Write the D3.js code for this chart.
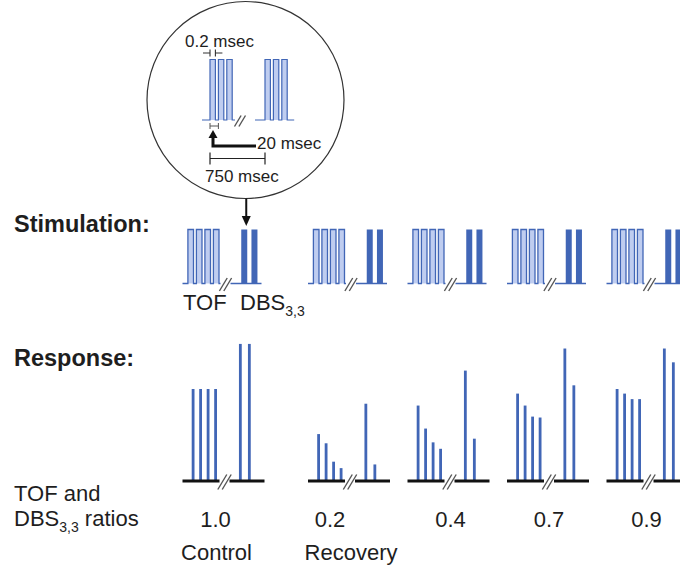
<!DOCTYPE html>
<html>
<head>
<meta charset="utf-8">
<script src="https://cdn.jsdelivr.net/npm/d3@7"></script>
<style>
  body { margin: 0; background: #fff; }
  svg { display: block; font-family: "Liberation Sans", Arial, sans-serif; }
</style>
</head>
<body>
<svg id="chart" width="680" height="566"></svg>
<script>
//groups of the figure, one per recovery level
const ratioLabels = ["1.0", "0.2", "0.4", "0.7", "0.9"]
const groupNotes = ["Control", "Recovery", "", "", ""]

//response heights, 1.0 = first twitch of control
const tofResponse = [
  [1.0, 1.0, 1.0, 1.0],
  [0.51, 0.41, 0.21, 0.14],
  [0.82, 0.57, 0.42, 0.35],
  [0.95, 0.82, 0.70, 0.69],
  [1.0, 0.95, 0.89, 0.89]
]
const dbsResponse = [
  [1.49, 1.49],
  [0.84, 0.18],
  [1.20, 0.46],
  [1.44, 1.04],
  [1.44, 1.29]
]

//pulse slots inside one group (TOF 4 single pulses, then 2 DBS bursts)
const tofSlots = [0, 1, 2, 3]
const dbsSlots = [6.3, 7.5]

//the inset: a DBS 3,3 pattern, 3 pulses per burst, 2 bursts
const insetPulses = [0, 1, 2]
const insetBursts = [0, 1]

const blue = "#4166b6"
const lightBlue = "#bfcdf0"
const ink = "#1e1e1e"

const svg = d3.select("#chart")

//layout of the groups
const groupStart = 182.5, groupStep = 99.5, controlGap = 26, groupWidth = 80
function gx(i) { return groupStart + i * groupStep + (i > 0 ? controlGap : 0) }

//slot scales inside a group (relative px)
const stimSlot = d3.scaleLinear().domain([0, 1]).range([8.2, 16.7])
const respSlot = d3.scaleLinear().domain([0, 1]).range([10.6, 18.1])

//stimulation row
const stimBase = 283.5, stimTop = 229.5
const pulseW = 5.6

//response row
const respBase = 481
const y = d3.scaleLinear().domain([0, 1]).range([respBase, respBase - 92])

//draw a "//" break mark
function breakMark(g, cx, cy, h) {
  g.append("rect").attr("x", cx - 5).attr("y", cy - 3).attr("width", 10).attr("height", 6).attr("fill", "#fff")
  ;[-2.2, 2.2].forEach(function (o) {
    g.append("line")
      .attr("x1", cx + o - h * 0.3).attr("y1", cy + h / 2)
      .attr("x2", cx + o + h * 0.3).attr("y2", cy - h / 2)
      .attr("stroke", "#555").attr("stroke-width", 1.4)
  })
}

// ---------- Stimulation row ----------
ratioLabels.forEach(function (lab, i) {
  const g = svg.append("g").attr("transform", `translate(${gx(i)},0)`)
  const starts = tofSlots.map(s => stimSlot(s) - pulseW / 2)

  //light fill inside TOF pulses
  g.selectAll("rect.tof").data(starts).join("rect")
    .attr("x", d => d).attr("y", stimTop)
    .attr("width", pulseW).attr("height", stimBase - stimTop)
    .attr("fill", lightBlue)

  //square wave outline
  const p = d3.path()
  p.moveTo(0, stimBase)
  starts.forEach(function (s) {
    p.lineTo(s, stimBase); p.lineTo(s, stimTop); p.lineTo(s + pulseW, stimTop); p.lineTo(s + pulseW, stimBase)
  })
  p.lineTo(groupWidth - 1, stimBase)
  g.append("path").attr("d", p.toString()).attr("fill", "none")
    .attr("stroke", blue).attr("stroke-width", 1.3)

  //DBS bursts drawn solid
  g.selectAll("rect.dbs").data(dbsSlots).join("rect")
    .attr("x", d => stimSlot(d) - 3).attr("y", stimTop)
    .attr("width", 6).attr("height", stimBase - stimTop)
    .attr("fill", blue)

  breakMark(g, 43, stimBase + 1, 13)
})

// ---------- Response row ----------
ratioLabels.forEach(function (lab, i) {
  const g = svg.append("g").attr("transform", `translate(${gx(i)},0)`)
  const bars = tofResponse[i].map((v, k) => ({ s: tofSlots[k], v: v }))
    .concat(dbsResponse[i].map((v, k) => ({ s: dbsSlots[k], v: v })))

  g.selectAll("rect").data(bars).join("rect")
    .attr("x", d => respSlot(d.s) - 1.4).attr("y", d => y(d.v))
    .attr("width", 2.8).attr("height", d => respBase - y(d.v))
    .attr("fill", blue)

  g.append("line").attr("x1", 0).attr("x2", i == ratioLabels.length - 1 ? 120 : groupWidth + 2)
    .attr("y1", respBase).attr("y2", respBase)
    .attr("stroke", "#111").attr("stroke-width", 3)

  breakMark(g, 42, respBase + 1, 15)
})

// ---------- Labels ----------
svg.append("text").attr("x", 14).attr("y", 232).text("Stimulation:")
  .attr("font-size", 23.5).attr("font-weight", "bold").attr("fill", ink)
svg.append("text").attr("x", 14).attr("y", 366).text("Response:")
  .attr("font-size", 23.5).attr("font-weight", "bold").attr("fill", ink)

svg.append("text").attr("x", 183).attr("y", 310).text("TOF")
  .attr("font-size", 22).attr("fill", ink)
const dbsLab = svg.append("text").attr("x", 240).attr("y", 310).attr("font-size", 22).attr("fill", ink)
dbsLab.append("tspan").text("DBS")
dbsLab.append("tspan").text("3,3").attr("font-size", 14).attr("dy", 6)

svg.append("text").attr("x", 14).attr("y", 501).text("TOF and")
  .attr("font-size", 22).attr("fill", ink)
const ratLab = svg.append("text").attr("x", 14).attr("y", 526).attr("font-size", 22).attr("fill", ink)
ratLab.append("tspan").text("DBS")
ratLab.append("tspan").text("3,3").attr("font-size", 14).attr("dy", 6)
ratLab.append("tspan").text(" ratios").attr("dy", -6)

//ratio and note under each group
const ratioNudge = [-7, -18, 3, 2, 0]
svg.selectAll("text.ratio").data(ratioLabels).join("text")
  .attr("class", "ratio")
  .attr("x", (d, i) => gx(i) + 40 + ratioNudge[i]).attr("y", 527)
  .attr("text-anchor", "middle").attr("font-size", 22).attr("fill", ink)
  .text(d => d)
svg.selectAll("text.note").data(groupNotes).join("text")
  .attr("class", "note")
  .attr("x", (d, i) => gx(i) + 40 + (i == 0 ? -6 : 3)).attr("y", 560)
  .attr("text-anchor", "middle").attr("font-size", 22).attr("fill", ink)
  .text(d => d)

// ---------- Inset circle ----------
const inset = svg.append("g")
inset.append("circle").attr("cx", 245.5).attr("cy", 100).attr("r", 98.5)
  .attr("fill", "#fff").attr("stroke", "#333").attr("stroke-width", 1.2)

//arrow from circle to first DBS burst
const arrowX = gx(0) + stimSlot(dbsSlots[0]) + 2
inset.append("line").attr("x1", arrowX).attr("x2", arrowX).attr("y1", 198.5).attr("y2", 218)
  .attr("stroke", "#111").attr("stroke-width", 2)
inset.append("path").attr("d", `M${arrowX - 4.5},216 L${arrowX + 4.5},216 L${arrowX},226 Z`).attr("fill", "#111")

const inBase = 120, inTop = 59.5
const inPulse = d3.scaleLinear().domain([0, 1]).range([210, 218.4])
const inBurst = d3.scaleLinear().domain([0, 1]).range([0, 55])
const inW = 5.4
insetBursts.forEach(function (b) {
  const starts = insetPulses.map(k => inPulse(k) + inBurst(b))
  inset.selectAll(null).data(starts).join("rect")
    .attr("x", d => d).attr("y", inTop).attr("width", inW).attr("height", inBase - inTop)
    .attr("fill", lightBlue)
  const p = d3.path()
  p.moveTo(starts[0] - 8 + (b ? -2 : 0), inBase)
  starts.forEach(function (s) {
    p.lineTo(s, inBase); p.lineTo(s, inTop); p.lineTo(s + inW, inTop); p.lineTo(s + inW, inBase)
  })
  p.lineTo(starts[2] + inW + 7, inBase)
  inset.append("path").attr("d", p.toString()).attr("fill", "none")
    .attr("stroke", blue).attr("stroke-width", 1.2)
})
breakMark(inset, 240, inBase + 1, 11)

//0.2 msec marker
const p0 = inPulse(0), p1 = inPulse(0) + inW
inset.append("path").attr("d", `M${p0 - 7},53 H${p0} M${p0},49.5 V56.5 M${p1},49.5 V56.5 M${p1},53 H${p1 + 7}`)
  .attr("stroke", "#333").attr("stroke-width", 1.1).attr("fill", "none")
inset.append("text").attr("x", 185).attr("y", 47).text("0.2 msec").attr("font-size", 17).attr("fill", ink)

//20 msec marker
const q1 = inPulse(1)
inset.append("path").attr("d", `M${p0},123 V129 M${q1},123 V129 M${p0},126 H${q1}`)
  .attr("stroke", "#555").attr("stroke-width", 1).attr("fill", "none")
inset.append("path").attr("d", `M256,146 H${p0 + 3} V137`)
  .attr("stroke", "#111").attr("stroke-width", 3).attr("fill", "none")
inset.append("path").attr("d", `M${p0 - 1.5},138 L${p0 + 7.5},138 L${p0 + 3},130 Z`).attr("fill", "#111")
inset.append("text").attr("x", 257).attr("y", 149).text("20 msec").attr("font-size", 17).attr("fill", ink)

//750 msec marker
const b1 = inPulse(0) + inBurst(1)
inset.append("path").attr("d", `M${p0},158.5 H${b1} M${p0},152.5 V164.5 M${b1},152.5 V164.5`)
  .attr("stroke", "#222").attr("stroke-width", 1.2).attr("fill", "none")
inset.append("text").attr("x", 205).attr("y", 182).text("750 msec").attr("font-size", 17).attr("fill", ink)
</script>
</body>
</html>
